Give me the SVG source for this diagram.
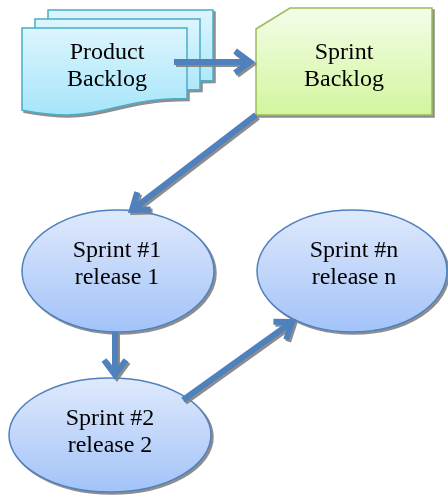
<svg xmlns="http://www.w3.org/2000/svg" width="448" height="497" viewBox="0 0 448 497">
  <defs>
    <linearGradient id="gCyan" x1="0" y1="0" x2="0" y2="1">
      <stop offset="0" stop-color="#dcf5fd"/>
      <stop offset="1" stop-color="#a6e5fa"/>
    </linearGradient>
    <linearGradient id="gGreen" x1="0" y1="0" x2="0" y2="1">
      <stop offset="0" stop-color="#f3fde8"/>
      <stop offset="1" stop-color="#d3f59e"/>
    </linearGradient>
    <linearGradient id="gBlue" x1="0" y1="0" x2="0" y2="1">
      <stop offset="0" stop-color="#dfe9fc"/>
      <stop offset="1" stop-color="#a3c3f8"/>
    </linearGradient>
    <filter id="shadow" x="-10%" y="-10%" width="130%" height="130%">
      <feOffset in="SourceAlpha" dx="2" dy="2" result="off"/>
      <feFlood flood-color="#808080" flood-opacity="0.9"/>
      <feComposite in2="off" operator="in" result="sh"/>
      <feMerge>
        <feMergeNode in="sh"/>
        <feMergeNode in="SourceGraphic"/>
      </feMerge>
    </filter>
    <marker id="chevron" markerUnits="userSpaceOnUse" viewBox="-24 -18 34 36" markerWidth="34" markerHeight="36" refX="0" refY="0" orient="auto" overflow="visible">
      <path d="M-15,-11 L0,0 L-15,11" fill="none" stroke="#4f81bd" stroke-width="6" stroke-linejoin="miter"/>
    </marker>
  </defs>
  <style>
    .doc { fill: url(#gCyan); stroke: #4bacc6; stroke-width: 1.5; }
    .snip { fill: url(#gGreen); stroke: #9bbb59; stroke-width: 1.5; }
    .oval { fill: url(#gBlue); stroke: #4f81bd; stroke-width: 1.5; }
    .label { font-family: "Liberation Serif", "Times New Roman", serif; font-size: 24px; fill: #000; text-anchor: middle; }
    .arrow { fill: none; stroke: #4f81bd; stroke-width: 6; marker-end: url(#chevron); }
  </style>

  <!-- Product Backlog: stacked documents -->
  <g id="product-backlog" filter="url(#shadow)">
    <path class="doc" d="M48,10 H213 V80.6 C130.5,80.6 130.5,107.5 48,92.2 Z"/>
    <path class="doc" d="M35,19 H200 V89.6 C117.5,89.6 117.5,116.5 35,101.2 Z"/>
    <path class="doc" d="M22,28 H187 V98.6 C104.5,98.6 104.5,125.5 22,110.2 Z"/>
    <text class="label" x="107" y="59">Product</text>
    <text class="label" x="107" y="86">Backlog</text>
  </g>

  <!-- Sprint Backlog: snipped-corner rectangle -->
  <g id="sprint-backlog" filter="url(#shadow)">
    <path class="snip" d="M290,8 H432 V115 H256 V29 Z"/>
    <text class="label" x="344" y="59">Sprint</text>
    <text class="label" x="344" y="86">Backlog</text>
  </g>

  <!-- Sprint nodes -->
  <g id="sprint-1" filter="url(#shadow)">
    <ellipse class="oval" cx="118" cy="271" rx="96" ry="61"/>
    <text class="label" x="117" y="257">Sprint #1</text>
    <text class="label" x="117" y="284">release 1</text>
  </g>
  <g id="sprint-n" filter="url(#shadow)">
    <ellipse class="oval" cx="352" cy="271" rx="95" ry="61"/>
    <text class="label" x="354" y="257">Sprint #n</text>
    <text class="label" x="354" y="284">release n</text>
  </g>
  <g id="sprint-2" filter="url(#shadow)">
    <ellipse class="oval" cx="110" cy="435" rx="101" ry="57"/>
    <text class="label" x="110" y="425">Sprint #2</text>
    <text class="label" x="110" y="452">release 2</text>
  </g>

  <!-- Connectors -->
  <g id="connectors" filter="url(#shadow)">
    <path class="arrow" d="M174,62 L250,62"/>
    <path class="arrow" d="M256,115 L132,210"/>
    <path class="arrow" d="M115,332 L115,375"/>
    <path class="arrow" d="M183,400 L292,322"/>
  </g>
</svg>
